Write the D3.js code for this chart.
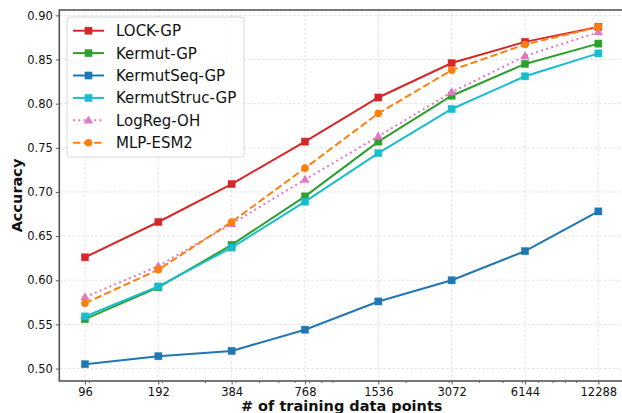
<!DOCTYPE html>
<html>
<head>
<meta charset="utf-8">
<script src="https://cdn.jsdelivr.net/npm/d3@7"></script>
<style>
  html, body { margin: 0; padding: 0; background: #fff; }
  svg { display: block; font-family: "DejaVu Sans", sans-serif; }
</style>
</head>
<body>
<svg id="chart" width="622" height="413"></svg>
<script>
// Training set sizes (log2-spaced)
const trainSizes = [96, 192, 384, 768, 1536, 3072, 6144, 12288];
const xTickLabels = ["96", "192", "384", "768", "1536", "3072", "6144", "12288"];
const yTicks = [0.50, 0.55, 0.60, 0.65, 0.70, 0.75, 0.80, 0.85, 0.90];

// Accuracy per model
const lockGP       = [0.626, 0.666, 0.709, 0.757, 0.807, 0.846, 0.870, 0.887];
const kermutGP     = [0.556, 0.592, 0.640, 0.695, 0.757, 0.809, 0.845, 0.868];
const kermutSeqGP  = [0.505, 0.514, 0.520, 0.544, 0.576, 0.600, 0.633, 0.678];
const kermutStruc  = [0.559, 0.593, 0.637, 0.689, 0.744, 0.794, 0.831, 0.857];
const logRegOH     = [0.581, 0.616, 0.664, 0.714, 0.763, 0.813, 0.854, 0.881];
const mlpESM2      = [0.574, 0.612, 0.666, 0.727, 0.789, 0.838, 0.867, 0.887];

const seriesNames = ["LOCK-GP", "Kermut-GP", "KermutSeq-GP", "KermutStruc-GP", "LogReg-OH", "MLP-ESM2"];
const seriesValues = [lockGP, kermutGP, kermutSeqGP, kermutStruc, logRegOH, mlpESM2];
const seriesColors = ["#d62728", "#2ca02c", "#1f77b4", "#17becf", "#e377c2", "#ff7f0e"];
const seriesMarkers = ["square", "square", "square", "square", "triangle", "circle"];
const seriesDash = [null, null, null, null, "2,3.3", "7.4,3.2"];

const svg = d3.select("#chart");
const plot = { left: 59.3, top: 10, right: 624, bottom: 381 };

// 5% padding on log2 range, like the usual auto-margins
const lx0 = Math.log2(trainSizes[0]), lx1 = Math.log2(trainSizes[trainSizes.length - 1]);
const padX = (lx1 - lx0) * 0.05;
const x = d3.scaleLog().base(2)
  .domain([Math.pow(2, lx0 - padX), Math.pow(2, lx1 + padX)])
  .range([plot.left, plot.right]);
const y = d3.scaleLinear().domain([0.4859, 0.9061]).range([plot.bottom, plot.top]);

// Grid
const grid = svg.append("g").attr("class", "grid");
grid.selectAll("line.gx").data(trainSizes).join("line")
  .attr("x1", d => x(d)).attr("x2", d => x(d))
  .attr("y1", plot.top).attr("y2", plot.bottom)
  .attr("stroke", "#d9d9d9").attr("stroke-width", 0.8).attr("stroke-dasharray", "2.5,2");
grid.selectAll("line.gy").data(yTicks).join("line")
  .attr("x1", plot.left).attr("x2", plot.right)
  .attr("y1", d => y(d)).attr("y2", d => y(d))
  .attr("stroke", "#d9d9d9").attr("stroke-width", 0.8).attr("stroke-dasharray", "2.5,2");

// Minor ticks at decade subdivisions on the x axis
const minorTicks = [];
[100, 1000, 10000].forEach(dec => { for (let k = 1; k <= 9; k++) minorTicks.push(dec * k); });
const [dx0, dx1] = x.domain();
svg.append("g").selectAll("line").data(minorTicks.filter(v => v > dx0 && v < dx1 && !trainSizes.includes(v))).join("line")
  .attr("x1", d => x(d)).attr("x2", d => x(d))
  .attr("y1", plot.bottom).attr("y2", plot.bottom + 2)
  .attr("stroke", "#333").attr("stroke-width", 0.7);

// Axes
const xAxis = d3.axisBottom(x).tickValues(trainSizes)
  .tickFormat((d, i) => xTickLabels[i]).tickSize(3.5).tickPadding(3);
const gx = svg.append("g").attr("transform", `translate(0,${plot.bottom})`).call(xAxis);
const yAxis = d3.axisLeft(y).tickValues(yTicks).tickFormat(d3.format(".2f")).tickSize(3.5).tickPadding(3);
const gy = svg.append("g").attr("transform", `translate(${plot.left},0)`).call(yAxis);
[gx, gy].forEach(g => {
  g.select(".domain").remove();
  g.selectAll(".tick line").attr("stroke", "#333").attr("stroke-width", 0.8);
  g.selectAll(".tick text").attr("fill", "#111").style("font-size", "11.5px").style("font-family", "DejaVu Sans");
});

// Series lines and markers
const line = d3.line().x((d, i) => x(trainSizes[i])).y(d => y(d));
function drawMarker(g, type, cx, cy, color) {
  if (type === "square") {
    g.append("rect").attr("x", cx - 3.6).attr("y", cy - 3.6).attr("width", 7.2).attr("height", 7.2)
      .attr("fill", color).attr("stroke", color).attr("stroke-opacity", 0.5).attr("stroke-width", 0.8);
  } else if (type === "circle") {
    g.append("circle").attr("cx", cx).attr("cy", cy).attr("r", 3.8).attr("fill", color);
  } else if (type === "triangle") {
    g.append("path").attr("d", d3.symbol(d3.symbolTriangle, 38)()).attr("transform", `translate(${cx},${cy + 0.5})`)
      .attr("fill", color);
  }
}
const seriesG = svg.append("g");
seriesValues.forEach((vals, si) => {
  const g = seriesG.append("g");
  g.append("path").datum(vals).attr("d", line)
    .attr("fill", "none").attr("stroke", seriesColors[si]).attr("stroke-width", 2)
    .attr("stroke-dasharray", seriesDash[si]);
  vals.forEach((v, i) => drawMarker(g, seriesMarkers[si], x(trainSizes[i]), y(v), seriesColors[si]));
});

// Frame
svg.append("rect").attr("x", plot.left).attr("y", plot.top)
  .attr("width", plot.right - plot.left).attr("height", plot.bottom - plot.top)
  .attr("fill", "none").attr("stroke", "#555").attr("stroke-width", 1.6);

// Legend
const leg = svg.append("g");
leg.append("rect").attr("x", 67).attr("y", 17).attr("width", 177).attr("height", 140)
  .attr("rx", 3).attr("fill", "#fff").attr("fill-opacity", 0.85).attr("stroke", "#ccc").attr("stroke-width", 0.8);
seriesNames.forEach((name, si) => {
  const ry = 30.7 + si * 22.4;
  leg.append("line").attr("x1", 73).attr("x2", 104).attr("y1", ry).attr("y2", ry)
    .attr("stroke", seriesColors[si]).attr("stroke-width", 2).attr("stroke-dasharray", seriesDash[si]);
  drawMarker(leg, seriesMarkers[si], 88.5, ry, seriesColors[si]);
  leg.append("text").attr("x", 116).attr("y", ry).attr("dy", "0.36em")
    .style("font-size", "15px").attr("fill", "#111").text(name);
});

// Axis titles
svg.append("text").attr("x", 341.7).attr("y", 410.5)
  .attr("text-anchor", "middle").style("font-size", "14.5px").style("font-weight", "bold")
  .attr("fill", "#111").text("# of training data points");
svg.append("text").attr("transform", `translate(21.5,${(plot.top + plot.bottom) / 2}) rotate(-90)`)
  .attr("text-anchor", "middle").style("font-size", "14.5px").style("font-weight", "bold")
  .attr("fill", "#111").text("Accuracy");
</script>
</body>
</html>
